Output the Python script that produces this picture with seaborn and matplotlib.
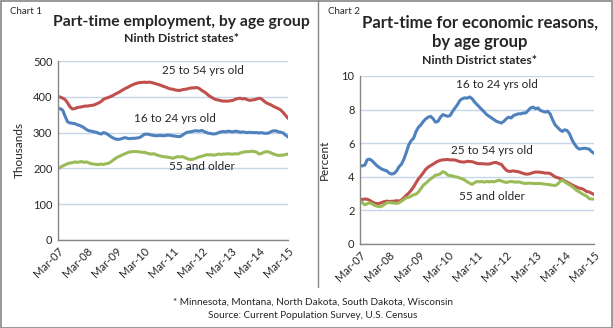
import matplotlib
matplotlib.use("Agg")
import matplotlib.pyplot as plt
import seaborn as sns
import pandas as pd
from matplotlib.lines import Line2D
from matplotlib.patches import Rectangle

# ---------------- data (monthly, Mar-07 .. Mar-15) ----------------
tick_labels = ["Mar-07", "Mar-08", "Mar-09", "Mar-10", "Mar-11",
               "Mar-12", "Mar-13", "Mar-14", "Mar-15"]

# Chart 1: part-time employment, thousands
pt_25_54 = [401, 399, 396, 392, 383, 372, 366, 367, 370, 371, 372, 374, 374, 375, 376, 377,
            380, 383, 387, 393, 396, 398, 401, 404, 408, 411, 415, 419, 423, 426, 430, 433,
            436, 438, 440, 440, 441, 440, 441, 440, 438, 436, 434, 432, 429, 427, 424, 422,
            421, 419, 418, 418, 420, 421, 422, 424, 425, 425, 426, 423, 418, 414, 409, 403,
            399, 395, 392, 391, 389, 388, 388, 388, 389, 390, 393, 395, 396, 394, 395, 392,
            390, 391, 392, 394, 396, 394, 388, 383, 380, 377, 373, 370, 367, 363, 356, 348, 340]
pt_16_24 = [366, 367, 362, 345, 330, 327, 326, 325, 322, 320, 317, 313, 308, 305, 304, 302,
            301, 298, 296, 300, 298, 294, 289, 285, 282, 281, 282, 284, 286, 284, 283, 284,
            284, 285, 286, 290, 295, 296, 295, 293, 292, 291, 292, 292, 291, 292, 293, 292,
            291, 290, 289, 289, 293, 298, 301, 302, 303, 305, 305, 304, 306, 303, 300, 298,
            297, 296, 297, 300, 302, 303, 302, 304, 303, 302, 304, 303, 301, 302, 301, 300,
            301, 300, 300, 300, 299, 300, 298, 298, 299, 303, 305, 305, 302, 301, 299, 293, 288]
pt_55_up = [199, 203, 207, 210, 213, 215, 216, 218, 217, 218, 219, 217, 218, 215, 213, 212,
            211, 211, 212, 211, 213, 214, 218, 223, 228, 232, 235, 238, 241, 244, 246, 247,
            247, 247, 246, 245, 245, 243, 241, 240, 241, 238, 236, 234, 233, 232, 231, 230,
            228, 231, 233, 232, 233, 230, 227, 225, 225, 227, 230, 232, 234, 236, 238, 238,
            238, 237, 238, 240, 239, 240, 240, 241, 240, 240, 241, 240, 243, 245, 246, 247,
            247, 248, 247, 245, 240, 242, 245, 247, 246, 243, 240, 238, 236, 237, 237, 239, 240]

# Chart 2: part-time for economic reasons, percent
ec_16_24 = [4.66, 4.65, 4.70, 5.02, 5.05, 4.95, 4.80, 4.65, 4.55, 4.45, 4.40, 4.35, 4.22, 4.16,
            4.20, 4.35, 4.60, 4.75, 5.05, 5.45, 5.90, 6.15, 6.30, 6.70, 6.95, 7.10, 7.30, 7.45,
            7.55, 7.60, 7.45, 7.25, 7.30, 7.55, 7.70, 7.65, 7.60, 7.65, 7.90, 8.10, 8.30, 8.55,
            8.65, 8.70, 8.68, 8.75, 8.65, 8.45, 8.30, 8.15, 8.00, 7.85, 7.70, 7.60, 7.50, 7.40,
            7.30, 7.25, 7.20, 7.30, 7.45, 7.55, 7.50, 7.65, 7.70, 7.75, 7.75, 7.80, 7.80, 7.95,
            8.10, 8.15, 8.05, 8.10, 7.95, 7.90, 7.85, 7.90, 7.75, 7.40, 7.10, 6.95, 6.80, 6.70,
            6.80, 6.75, 6.55, 6.20, 5.95, 5.75, 5.65, 5.68, 5.70, 5.68, 5.65, 5.50, 5.40]
ec_25_54 = [2.67, 2.65, 2.68, 2.66, 2.60, 2.50, 2.43, 2.40, 2.42, 2.47, 2.53, 2.55, 2.53, 2.54,
            2.55, 2.58, 2.55, 2.62, 2.75, 2.90, 3.03, 3.20, 3.40, 3.65, 3.88, 4.06, 4.25, 4.45,
            4.58, 4.67, 4.75, 4.85, 4.93, 4.98, 5.01, 5.02, 5.03, 5.00, 5.01, 5.00, 4.95, 4.90,
            4.88, 4.88, 4.92, 4.91, 4.90, 4.85, 4.80, 4.78, 4.78, 4.77, 4.76, 4.76, 4.80, 4.85,
            4.85, 4.78, 4.74, 4.55, 4.40, 4.32, 4.33, 4.35, 4.32, 4.30, 4.25, 4.20, 4.16, 4.16,
            4.20, 4.25, 4.28, 4.28, 4.27, 4.25, 4.22, 4.22, 4.20, 4.10, 4.00, 3.95, 3.90, 3.85,
            3.75, 3.68, 3.60, 3.52, 3.45, 3.38, 3.32, 3.30, 3.22, 3.12, 3.10, 3.02, 2.95]
ec_55_up = [2.57, 2.45, 2.33, 2.40, 2.45, 2.38, 2.30, 2.25, 2.22, 2.25, 2.35, 2.45, 2.47, 2.45,
            2.43, 2.42, 2.45, 2.55, 2.65, 2.75, 2.78, 2.85, 2.93, 2.97, 3.10, 3.30, 3.50, 3.62,
            3.75, 3.88, 3.98, 4.10, 4.12, 4.18, 4.30, 4.25, 4.10, 4.08, 4.05, 4.00, 3.98, 3.92,
            3.88, 3.80, 3.70, 3.62, 3.55, 3.65, 3.72, 3.70, 3.72, 3.68, 3.72, 3.70, 3.72, 3.70,
            3.75, 3.80, 3.75, 3.70, 3.66, 3.70, 3.72, 3.70, 3.68, 3.70, 3.66, 3.62, 3.60, 3.62,
            3.62, 3.60, 3.60, 3.60, 3.60, 3.58, 3.56, 3.55, 3.52, 3.50, 3.48, 3.55, 3.72, 3.80,
            3.70, 3.60, 3.52, 3.42, 3.30, 3.18, 3.10, 3.00, 2.92, 2.85, 2.70, 2.68, 2.67]

BLUE, RED, GREEN = "#4F81BD", "#C0504D", "#9BBB59"
GRID = "#C6D5E8"
SPINE = "#868686"

sns.set_style("white")
plt.rcParams["font.family"] = ["Lato", "DejaVu Sans"]

W, H = 613, 328
fig = plt.figure(figsize=(W / 100, H / 100), dpi=100)


def fx(px):
    return px / W


def fy(py):
    return 1 - py / H


def make_df(series):
    rows = []
    for name, vals in series:
        for i, v in enumerate(vals):
            rows.append({"month": i, "value": v, "group": name})
    return pd.DataFrame(rows)


def style_axis(ax, ymax, step):
    n = int(round(ymax / step)) + 1
    ax.set_xlim(0, 96)
    ax.set_ylim(0, ymax)
    ax.set_yticks([step * i for i in range(n)])
    ax.set_yticklabels([f"{int(step * i)}" for i in range(n)], fontsize=8)
    ax.set_xticks(list(range(0, 97, 12)))
    ax.set_xticklabels(tick_labels, rotation=45, ha="right", rotation_mode="anchor",
                       fontsize=8)
    ax.tick_params(axis="both", length=0, pad=4)
    ax.grid(axis="y", color=GRID, linewidth=1)
    ax.grid(axis="x", visible=False)
    for s in ["top", "right"]:
        ax.spines[s].set_visible(False)
    for s in ["left", "bottom"]:
        ax.spines[s].set_color(SPINE)
        ax.spines[s].set_linewidth(1)
    ax.set_xlabel("")
    legend = ax.get_legend()
    if legend:
        legend.remove()


def label(text, px, py):
    fig.text(fx(px), fy(py), text, ha="center", va="center", fontsize=8.5)


# ---------------- Chart 1 ----------------
ax1 = fig.add_axes([fx(58), fy(240), fx(288) - fx(58), fy(61) - fy(240)])
df1 = make_df([("25 to 54 yrs old", pt_25_54), ("16 to 24 yrs old", pt_16_24),
               ("55 and older", pt_55_up)])
sns.lineplot(data=df1, x="month", y="value", hue="group", ax=ax1,
             palette=[RED, BLUE, GREEN], linewidth=2.2)
style_axis(ax1, 500, 100)
ax1.set_ylabel("Thousands", fontsize=8.5, labelpad=6)
label("25 to 54 yrs old", 203, 70)
label("16 to 24 yrs old", 175, 118)
label("55 and older", 202, 167)

# ---------------- Chart 2 ----------------
ax2 = fig.add_axes([fx(360), fy(244), fx(594) - fx(360), fy(76) - fy(244)])
df2 = make_df([("16 to 24 yrs old", ec_16_24), ("25 to 54 yrs old", ec_25_54),
               ("55 and older", ec_55_up)])
sns.lineplot(data=df2, x="month", y="value", hue="group", ax=ax2,
             palette=[BLUE, RED, GREEN], linewidth=2.2)
style_axis(ax2, 10, 2)
ax2.set_ylabel("Percent", fontsize=8.5, labelpad=8)
label("16 to 24 yrs old", 497, 84)
label("25 to 54 yrs old", 492, 150)
label("55 and older", 492, 197)

# ---------------- titles & notes ----------------
fig.text(fx(10), fy(12), "Chart 1", fontsize=7, va="center", ha="left")
fig.text(fx(181), fy(22), "Part-time employment, by age group", fontsize=11.3,
         fontweight="bold", ha="center", va="center")
fig.text(fx(181), fy(39), "Ninth District states*", fontsize=8.8, fontweight="bold",
         ha="center", va="center")

fig.text(fx(328), fy(12), "Chart 2", fontsize=7, va="center", ha="left")
fig.text(fx(480), fy(23), "Part-time for economic reasons,", fontsize=12,
         fontweight="bold", ha="center", va="center")
fig.text(fx(480), fy(42), "by age group", fontsize=12, fontweight="bold",
         ha="center", va="center")
fig.text(fx(480), fy(61), "Ninth District states*", fontsize=8.8, fontweight="bold",
         ha="center", va="center")

fig.text(fx(313), fy(302), "* Minnesota, Montana, North Dakota, South Dakota, Wisconsin",
         fontsize=7.2, ha="center", va="center")
fig.text(fx(313), fy(315), "Source: Current Population Survey, U.S. Census",
         fontsize=7.2, ha="center", va="center")

# divider and border
fig.add_artist(Line2D([fx(318), fx(318)], [fy(0), fy(287)], color=SPINE, linewidth=1,
                      transform=fig.transFigure))
fig.add_artist(Rectangle((0.5 / W, 0.5 / H), 1 - 1.5 / W, 1 - 1.5 / H, fill=False,
                         edgecolor=SPINE, linewidth=1.2, transform=fig.transFigure))

fig.savefig("out.png", dpi=100)
